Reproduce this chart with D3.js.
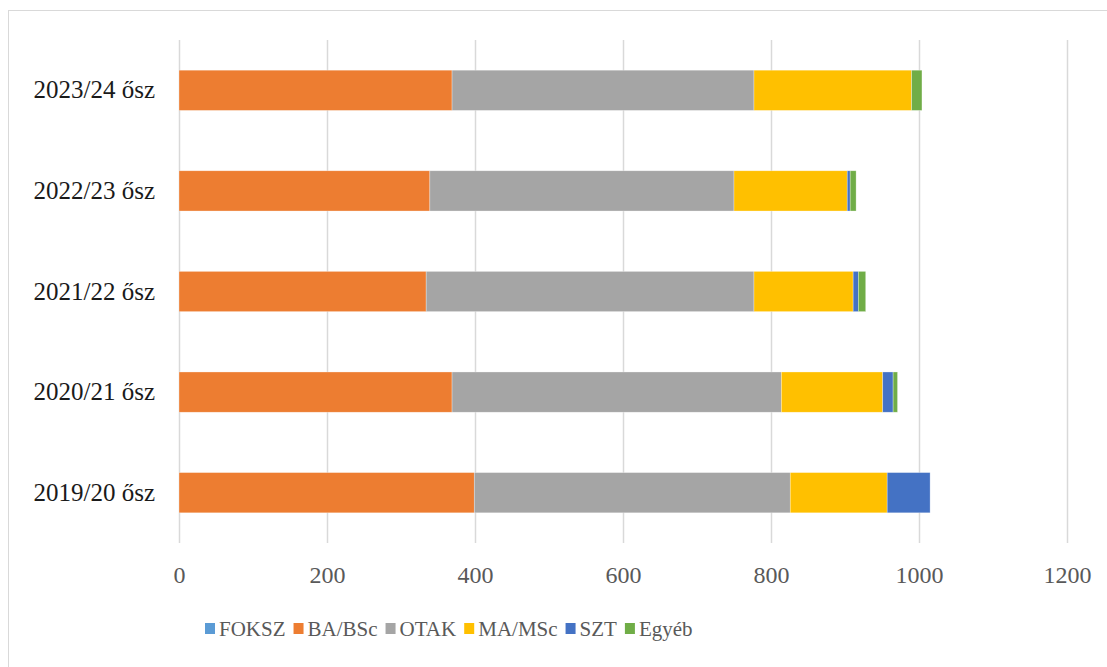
<!DOCTYPE html>
<html>
<head>
<meta charset="utf-8">
<script src="https://cdn.jsdelivr.net/npm/d3@7"></script>
<style>
  body { margin: 0; background: #fff; }
  svg text { font-family: 'Liberation Serif', 'DejaVu Serif', serif; }
</style>
</head>
<body>
<div id="chart"></div>
<script>
// categories (top to bottom as drawn)
const semesters = ["2023/24 ősz", "2022/23 ősz", "2021/22 ősz", "2020/21 ősz", "2019/20 ősz"];
const seriesNames = ["FOKSZ", "BA/BSc", "OTAK", "MA/MSc", "SZT", "Egyéb"];
const seriesColors = ["#5B9BD5", "#ED7D31", "#A5A5A5", "#FFC000", "#4472C4", "#70AD47"];

// values per series, same order as semesters
const foksz = [0, 0, 0, 0, 0];
const ba    = [369, 339, 334, 369, 399];
const otak  = [408, 411, 443, 445, 427];
const ma    = [213, 153, 134, 137, 131];
const szt   = [0, 4, 7, 14, 58];
const egyeb = [14, 8, 10, 6, 0];

const xTicks = [0, 200, 400, 600, 800, 1000, 1200];

const W = 1107, H = 667;
const margin = {top: 40, right: 40, bottom: 124, left: 179};
const width = 1067 - margin.left,
      height = 543 - margin.top;
const serif = "Liberation Serif";

// build rows for the stack
const cols = [foksz, ba, otak, ma, szt, egyeb];
const rows = semesters.map((s, i) => {
  const r = {sem: s};
  seriesNames.forEach((n, j) => r[n] = cols[j][i]);
  return r;
});

const svg = d3.select("#chart").append("svg")
  .attr("width", W)
  .attr("height", H)
  .style("display", "block");

// chart frame
svg.append("rect")
  .attr("x", 8.5).attr("y", 10.5)
  .attr("width", W + 20).attr("height", H + 20)
  .attr("fill", "#fff")
  .attr("stroke", "#D9D9D9");

const g = svg.append("g")
  .attr("transform", "translate(" + margin.left + "," + margin.top + ")");

const x = d3.scaleLinear().domain([0, 1200]).range([0, width]);
const y = d3.scaleBand().domain(semesters).range([0, height])
  .paddingInner(0.6).paddingOuter(0.3);

// gridlines
g.selectAll(".grid")
  .data(xTicks).enter()
  .append("line")
  .attr("class", "grid")
  .attr("x1", d => Math.round(x(d)) + 0.5)
  .attr("x2", d => Math.round(x(d)) + 0.5)
  .attr("y1", 0).attr("y2", height)
  .attr("stroke", "#D9D9D9")
  .attr("stroke-width", 1.5);

// x axis labels
const xAxis = g.append("g")
  .attr("transform", "translate(0," + height + ")")
  .call(d3.axisBottom(x).tickValues(xTicks).tickFormat(d3.format("d"))
    .tickSize(0).tickPadding(23));
xAxis.select(".domain").remove();
xAxis.attr("font-family", serif).attr("font-size", 24);
xAxis.selectAll("text").attr("fill", "#595959");

// y axis labels
const yAxis = g.append("g")
  .call(d3.axisLeft(y).tickSize(0).tickPadding(24));
yAxis.select(".domain").remove();
yAxis.attr("font-family", serif).attr("font-size", 25);
yAxis.selectAll("text").attr("fill", "#1a1a1a");

// stacked bars
const stack = d3.stack().keys(seriesNames)(rows);

g.selectAll(".layer")
  .data(stack).enter()
  .append("g")
  .attr("class", "layer")
  .attr("fill", (d, i) => seriesColors[i])
  .selectAll("rect")
  .data(d => d.filter(s => s[1] > s[0]))
  .enter().append("rect")
  .attr("x", d => x(d[0]))
  .attr("y", d => y(d.data.sem))
  .attr("width", d => x(d[1]) - x(d[0]))
  .attr("height", y.bandwidth())
  .attr("stroke", "#fff")
  .attr("stroke-opacity", 0.5)
  .attr("stroke-width", 0.6);

// legend
const legend = svg.append("g")
  .attr("transform", "translate(205,629)")
  .attr("font-family", serif)
  .attr("font-size", 21);
let lx = 0;
seriesNames.forEach((n, i) => {
  const item = legend.append("g").attr("transform", "translate(" + lx + ",0)");
  item.append("rect")
    .attr("x", 0).attr("y", -6)
    .attr("width", 10).attr("height", 11)
    .attr("fill", seriesColors[i]);
  const t = item.append("text")
    .attr("x", 14).attr("y", 0)
    .attr("dy", "0.35em")
    .attr("fill", "#595959")
    .text(n);
  lx += 14 + t.node().getComputedTextLength() + 8;
});
</script>
</body>
</html>
